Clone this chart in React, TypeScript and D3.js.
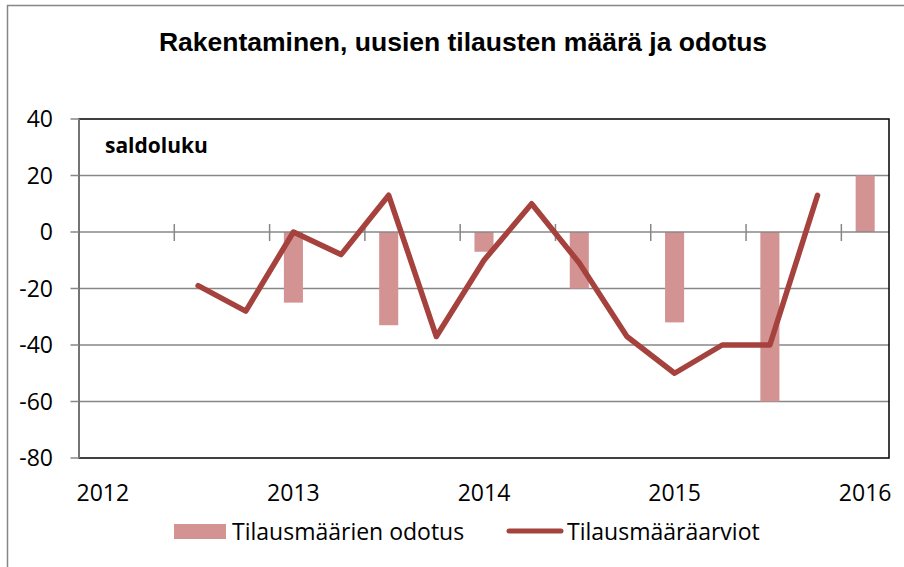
import React from "react";
import * as d3 from "d3";

// quarters 2012Q1 .. 2016Q1
const quarters = [
  "2012Q1", "2012Q2", "2012Q3", "2012Q4",
  "2013Q1", "2013Q2", "2013Q3", "2013Q4",
  "2014Q1", "2014Q2", "2014Q3", "2014Q4",
  "2015Q1", "2015Q2", "2015Q3", "2015Q4",
  "2016Q1",
];

// Tilausmäärien odotus (bars, half-yearly)
const odotus: (number | null)[] = [
  null, null, null, null,
  -25, null, -33, null,
  -7, null, -20, null,
  -32, null, -60, null,
  20,
];

// Tilausmääräarviot (line)
const arviot: (number | null)[] = [
  null, null, -19, -28,
  0, -8, 13, -37,
  -10, 10, -11, -37,
  -50, -40, -40, 13,
  null,
];

const yTicks = [40, 20, 0, -20, -40, -60, -80];

const W = 904;
const H = 567;
const plot = { left: 79, right: 889, top: 119, bottom: 458 };

const barColor = "#D49393";
const lineColor = "#A5423E";
const gridColor = "#878787";
const txt = "'Open Sans', sans-serif";

export default function App() {
  const x = d3
    .scaleBand<string>()
    .domain(quarters)
    .range([plot.left, plot.right])
    .paddingInner(0)
    .paddingOuter(0);
  const y = d3.scaleLinear().domain([-80, 40]).range([plot.bottom, plot.top]);

  const step = x.step();
  const barW = step * 0.4;
  const cx = (q: string) => (x(q) as number) + step / 2;

  const linePts = quarters
    .map((q, i) => ({ q, v: arviot[i] }))
    .filter(d => d.v !== null) as { q: string; v: number }[];
  const line = d3
    .line<{ q: string; v: number }>()
    .x(d => cx(d.q))
    .y(d => y(d.v));

  const boundaryTicks = d3.range(2, quarters.length, 2).map(k => plot.left + k * step);

  return (
    <svg
      width={W}
      height={H}
      style={{ position: "absolute", left: 0, top: 0, background: "#fff" }}
    >
      {/* chart area border (runs off the page on right/bottom) */}
      <rect x={7.5} y={5.5} width={960} height={620} fill="#fff" stroke="#868686" strokeWidth={1.5} />

      <text
        x={463}
        y={51}
        textAnchor="middle"
        fontFamily="'Liberation Sans', Arial, sans-serif"
        fontWeight="bold"
        fontSize={26.5}
        fill="#000"
      >
        Rakentaminen, uusien tilausten määrä ja odotus
      </text>

      {/* gridlines */}
      {yTicks
        .filter(t => t !== 40 && t !== -80 && t !== 0)
        .map(t => (
          <line
            key={t}
            x1={plot.left}
            x2={plot.right}
            y1={y(t)}
            y2={y(t)}
            stroke={gridColor}
            strokeWidth={1.5}
          />
        ))}

      {/* bars */}
      {quarters.map((q, i) => {
        const v = odotus[i];
        if (v === null) return null;
        return (
          <rect
            key={q}
            x={cx(q) - barW / 2}
            y={Math.min(y(v), y(0))}
            width={barW}
            height={Math.abs(y(v) - y(0))}
            fill={barColor}
          />
        );
      })}

      {/* category axis at zero */}
      <line x1={plot.left} x2={plot.right} y1={y(0)} y2={y(0)} stroke={gridColor} strokeWidth={1.5} />
      {boundaryTicks.map((bx, i) => (
        <line key={i} x1={bx} x2={bx} y1={y(0) - 8} y2={y(0) + 9} stroke={gridColor} strokeWidth={1.5} />
      ))}

      {/* line series */}
      <path
        d={line(linePts) || ""}
        fill="none"
        stroke={lineColor}
        strokeWidth={5.5}
        strokeLinejoin="round"
        strokeLinecap="round"
      />

      {/* plot border */}
      <rect
        x={plot.left}
        y={plot.top}
        width={plot.right - plot.left}
        height={plot.bottom - plot.top}
        fill="none"
        stroke="#000"
        strokeWidth={1.5}
      />

      {/* value axis */}
      <line x1={plot.left} x2={plot.left} y1={plot.top} y2={plot.bottom} stroke={gridColor} strokeWidth={1.5} />
      {yTicks.map(t => (
        <g key={t}>
          <line x1={plot.left - 8.5} x2={plot.left} y1={y(t)} y2={y(t)} stroke={gridColor} strokeWidth={1.5} />
          <text x={53} y={y(t) + 8} textAnchor="end" fontFamily={txt} fontSize={23} fill="#000">
            {t}
          </text>
        </g>
      ))}

      {/* year labels at Q1 */}
      {quarters
        .filter(q => q.endsWith("Q1"))
        .map(q => (
          <text key={q} x={cx(q)} y={501} textAnchor="middle" fontFamily={txt} fontSize={23} fill="#000">
            {q.slice(0, 4)}
          </text>
        ))}

      <text x={105} y={153} fontFamily={txt} fontWeight="bold" fontSize={21} fill="#000">
        saldoluku
      </text>

      {/* legend */}
      <rect x={174} y={524} width={52} height={15} fill={barColor} />
      <text x={232} y={540} fontFamily={txt} fontSize={23} fill="#000">
        Tilausmäärien odotus
      </text>
      <line x1={509} x2={561} y1={531} y2={531} stroke={lineColor} strokeWidth={5} strokeLinecap="round" />
      <text x={567} y={540} fontFamily={txt} fontSize={23} fill="#000">
        Tilausmääräarviot
      </text>
    </svg>
  );
}
